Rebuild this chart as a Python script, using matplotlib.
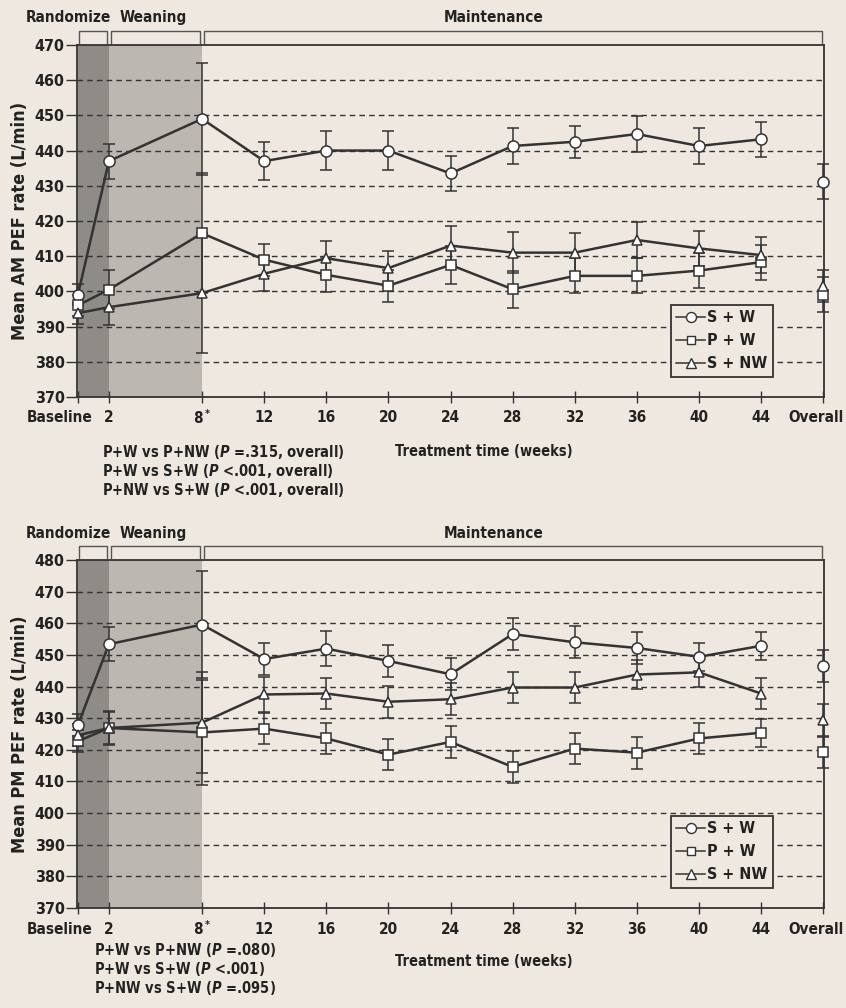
import matplotlib.pyplot as plt
from matplotlib import font_manager
from matplotlib.lines import Line2D
from matplotlib.transforms import blended_transform_factory

# pick a narrow bold face if one is installed
installed = {(f.name, f.stretch) for f in font_manager.fontManager.ttflist}
names = {n for n, s in installed}
stretch = 'normal'
if 'Liberation Sans Narrow' in names:
    family = 'Liberation Sans Narrow'
elif ('DejaVu Sans', 'condensed') in installed:
    family, stretch = 'DejaVu Sans', 'condensed'
else:
    family = 'Liberation Sans'
plt.rcParams['font.family'] = [family, 'DejaVu Sans']
plt.rcParams['font.stretch'] = stretch
plt.rcParams['font.weight'] = 'bold'
plt.rcParams['mathtext.fontset'] = 'custom'
plt.rcParams['mathtext.it'] = family + ':italic:bold'
plt.rcParams['mathtext.rm'] = family + ':bold'

# time points (weeks); Baseline = 0, Overall = 48
weeks = [0, 2, 8, 12, 16, 20, 24, 28, 32, 36, 40, 44, 48]
tick_labels = ['Baseline', '2', '8$^*$', '12', '16', '20', '24', '28', '32',
               '36', '40', '44', 'Overall']
series = ['S + W', 'P + W', 'S + NW']

am_sw = [399, 437, 449, 437, 440, 440, 433.5, 441.3, 442.5, 444.7, 441.3, 443.2, 431.1]
am_pw = [396, 400.5, 416.5, 409, 404.7, 401.6, 407.5, 400.6, 404.4, 404.4, 405.9, 408.3, 399]
am_snw = [393.8, 395.5, 399.5, 405, 409.4, 406.6, 413, 411, 411, 414.6, 412.2, 410.3, 401.5]
am_sw_err = [3, 5, 16, 5.5, 5.5, 5.5, 5, 5, 4.5, 5, 5, 5, 5]
am_pw_err = [3, 5.5, 17, 4.5, 5, 4.5, 5.5, 5.3, 5, 5, 5, 5, 5]
am_snw_err = [3, 5, 17, 5, 5, 5, 5.5, 5.8, 5.5, 5, 5, 5, 4.5]

pm_sw = [427.8, 453.4, 459.6, 448.7, 452, 448.1, 443.9, 456.6, 454, 452.2, 449.4, 452.9, 446.5]
pm_pw = [422.7, 426.9, 425.5, 426.7, 423.6, 418.5, 422.5, 414.6, 420.4, 419.1, 423.6, 425.4, 419.2]
pm_snw = [424.6, 426.9, 428.6, 437.5, 437.8, 435.2, 436, 439.7, 439.7, 443.8, 444.5, 437.8, 429.4]
pm_sw_err = [3.5, 5.3, 17, 5, 5.5, 5, 5, 5, 5, 5, 4.5, 4.5, 5]
pm_pw_err = [3.5, 5.5, 16.5, 5, 5, 5, 5, 5, 5, 5, 5, 4.5, 5]
pm_snw_err = [3.5, 5, 16, 5.5, 5, 5, 5, 5, 5, 4.5, 4.5, 5, 5]

am_notes = ['P+W vs P+NW ($P$ =.315, overall)',
            'P+W vs S+W ($P$ <.001, overall)',
            'P+NW vs S+W ($P$ <.001, overall)']
pm_notes = ['P+W vs P+NW ($P$ =.080)',
            'P+W vs S+W ($P$ <.001)',
            'P+NW vs S+W ($P$ =.095)']

bg = '#eee8e0'
ink = '#333333'
txt = '#222222'
fs = 10.5
markers = ['o', 's', '^']
msizes = [8, 6.5, 7.5]

fig = plt.figure(figsize=(8.46, 10.08), dpi=100, facecolor=bg)


def panel(rect, ylo, yhi, data, errs, ylabel, notes, note_y, note_x, upp):
    # upp: data units per pixel on the y axis
    ax = fig.add_axes(rect)
    ax.set_facecolor(bg)
    ax.set_xlim(-0.05, 48.05)
    ax.set_ylim(ylo, yhi)
    ax.axvspan(0, 2, color='#8f8b86', lw=0, zorder=0)
    ax.axvspan(2, 8, color='#bcb7b1', lw=0, zorder=0)
    for y in range(ylo + 10, yhi, 10):
        ax.axhline(y, color=ink, lw=1, ls=(0, (4, 3)), zorder=1)
    for vals, err, m, ms in zip(data, errs, markers, msizes):
        ax.errorbar(weeks[:-1], vals[:-1], yerr=err[:-1], color=ink, lw=1.8,
                    elinewidth=1.1, capsize=4.5, capthick=1.1, marker=m, ms=ms,
                    mfc='white', mec=ink, mew=1.1, zorder=3, clip_on=False)
        ax.errorbar([weeks[-1]], [vals[-1]], yerr=[err[-1]], color=ink, ls='none',
                    elinewidth=1.1, capsize=4.5, capthick=1.1, marker=m, ms=ms,
                    mfc='white', mec=ink, mew=1.1, zorder=3, clip_on=False)
    for s in ax.spines.values():
        s.set_color(ink)
        s.set_linewidth(1.3)
    ax.set_yticks(range(ylo, yhi + 1, 10))
    ax.set_xticks(weeks)
    ax.set_xticklabels([])
    ax.tick_params(axis='y', direction='out', length=8, width=1, color=ink,
                   labelsize=fs + 1, pad=1, labelcolor=txt)
    ax.tick_params(axis='x', direction='inout', length=9, width=1, color=ink)
    for t in ax.get_yticklabels():
        t.set_fontweight('bold')
    # x tick labels, Baseline and Overall pulled in like the original
    tr = blended_transform_factory(ax.transData, ax.transAxes)
    lab_y = -21 / (rect[3] * 1008)
    shift = {0: -1.2, 12: -0.45}
    for i, (w, lab) in enumerate(zip(weeks, tick_labels)):
        ax.text(w + shift.get(i, 0), lab_y, lab, transform=tr, ha='center',
                va='center', fontsize=fs + 0.5, fontweight='bold', color=txt)
    ax.set_ylabel(ylabel, fontsize=fs + 2.5, fontweight='bold', labelpad=4,
                  color=txt)
    ax.text(0.545, -0.155, 'Treatment time (weeks)', transform=ax.transAxes,
            ha='center', va='center', fontsize=fs, fontweight='bold', color=txt)
    for i, n in enumerate(notes):
        fig.text(note_x, note_y - i * 0.0188, n, ha='left', va='center',
                 fontsize=fs, fontweight='bold', color=txt)
    # phase brackets above the plot
    top = yhi + 14 * upp
    low = yhi + 2 * upp
    for x0, x1 in [(0.05, 1.85), (2.15, 7.85), (8.15, 47.9)]:
        ax.plot([x0, x0, x1, x1], [low, top, top, low], color='#555555', lw=1,
                clip_on=False)
    ty = yhi + 27 * upp
    ax.text(2.15, ty, 'Randomize', ha='right', va='center', fontsize=fs + 0.5,
            fontweight='bold', color=txt)
    ax.text(2.7, ty, 'Weaning', ha='left', va='center', fontsize=fs + 0.5,
            fontweight='bold', color=txt)
    ax.text(26.8, ty, 'Maintenance', ha='center', va='center', fontsize=fs + 0.5,
            fontweight='bold', color=txt)
    handles = [Line2D([], [], color=ink, lw=1.1, marker=m, ms=ms * 0.9, mfc='white',
                      mec=ink, mew=1.0) for m, ms in zip(markers, msizes)]
    leg = ax.legend(handles, series, loc='lower left',
                    bbox_to_anchor=(0.795, 20 / (rect[3] * 1008)),
                    frameon=True, fancybox=False, fontsize=fs + 1, handlelength=1.8,
                    handletextpad=0.1, borderpad=0.35, labelspacing=0.5,
                    borderaxespad=0)
    leg.get_frame().set_edgecolor(ink)
    leg.get_frame().set_linewidth(1.3)
    leg.get_frame().set_facecolor(bg)
    leg.get_frame().set_alpha(1)
    for t in leg.get_texts():
        t.set_fontweight('bold')
        t.set_color(txt)
    return ax


panel([0.0911, 0.6062, 0.8829, 0.3492], 370, 470, [am_sw, am_pw, am_snw],
      [am_sw_err, am_pw_err, am_snw_err], 'Mean AM PEF rate (L/min)',
      am_notes, 1 - 451.7 / 1008, 102 / 846, 100 / 352)
panel([0.0911, 0.0992, 0.8829, 0.3452], 370, 480, [pm_sw, pm_pw, pm_snw],
      [pm_sw_err, pm_pw_err, pm_snw_err], 'Mean PM PEF rate (L/min)',
      pm_notes, 1 - 950 / 1008, 94 / 846, 110 / 348)

fig.savefig('out.png', dpi=100, facecolor=bg)
